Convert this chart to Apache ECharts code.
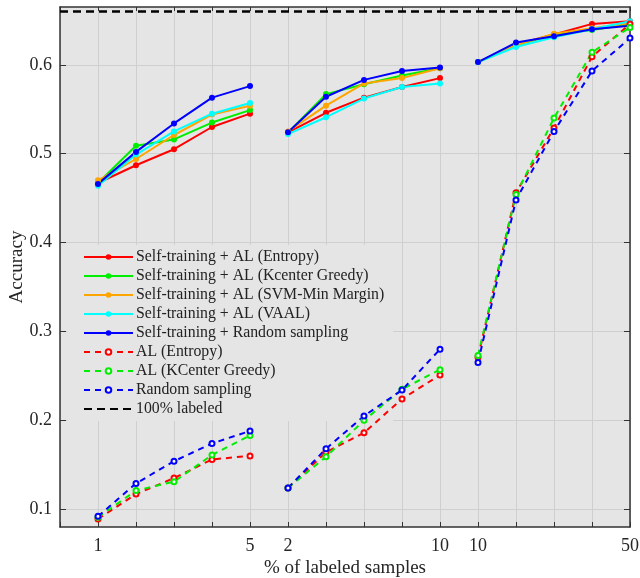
<!DOCTYPE html>
<html><head><meta charset="utf-8">
<script src="https://cdn.jsdelivr.net/npm/echarts@6/dist/echarts.min.js"></script>
<style>html,body{margin:0;padding:0;background:#fff}#c{width:640px;height:578px}</style>
</head><body><div id="c"></div>
<script>
// Three x-axis segments, each with 5 points
const seg1Labels = ['1','2','3','4','5'];
const seg2Labels = ['2','4','6','8','10'];
const seg3Labels = ['10','20','30','40','50'];
const tickLabels = {0:'1',4:'5',5:'2',9:'10',10:'10',14:'50'};
const yTicks = [0.1,0.2,0.3,0.4,0.5,0.6];

const stEntropy = [0.467,0.487,0.505,0.530,0.545, 0.524,0.546,0.563,0.575,0.585, 0.603,0.623,0.634,0.646,0.649];
const stKcenter = [0.467,0.509,0.516,0.535,0.549, 0.524,0.567,0.578,0.588,0.596, 0.603,0.622,0.634,0.639,0.646];
const stSVM     = [0.470,0.494,0.521,0.544,0.554, 0.525,0.554,0.579,0.585,0.596, 0.603,0.622,0.635,0.641,0.647];
const stVAAL    = [0.464,0.499,0.525,0.545,0.557, 0.522,0.541,0.562,0.575,0.579, 0.603,0.620,0.631,0.640,0.649];
const stRandom  = [0.466,0.502,0.534,0.563,0.576, 0.524,0.564,0.583,0.593,0.597, 0.603,0.625,0.632,0.640,0.644];
const alEntropy = [0.089,0.117,0.135,0.156,0.160, 0.124,0.164,0.186,0.224,0.251, 0.271,0.456,0.529,0.609,0.646];
const alKcenter = [0.091,0.121,0.131,0.161,0.183, 0.124,0.159,0.200,0.235,0.257, 0.273,0.454,0.540,0.614,0.642];
const alRandom  = [0.092,0.129,0.154,0.174,0.188, 0.124,0.168,0.205,0.234,0.280, 0.265,0.448,0.525,0.593,0.630];
const fullLabeled = 0.66;

const allLabels = seg1Labels.concat(seg2Labels, seg3Labels);

function toData(vals){
  const out = [];
  vals.forEach((v,i)=>{
    if (i===5 || i===10) out.push([i-0.5,'-']);
    out.push([i,v]);
  });
  return out;
}

const font = 'Liberation Serif, Times New Roman, serif';
function solid(name,color,vals){
  return {name, type:'line', data:toData(vals), symbol:'circle', symbolSize:6,
    lineStyle:{color,width:2}, itemStyle:{color}, connectNulls:false, z:5};
}
function dashed(name,color,vals){
  return {name, type:'line', data:toData(vals), symbol:'emptyCircle', symbolSize:5,
    lineStyle:{color,width:2,type:[6,5]}, itemStyle:{color,borderWidth:1.8}, connectNulls:false, z:5};
}

const legendNames = ['Self-training + AL (Entropy)','Self-training + AL (Kcenter Greedy)','Self-training + AL (SVM-Min Margin)',
  'Self-training + AL (VAAL)','Self-training + Random sampling','AL (Entropy)','AL (KCenter Greedy)','Random sampling','100% labeled'];

const chart = echarts.init(document.getElementById('c'), null, {renderer:'canvas'});
chart.setOption({
  animation:false,
  backgroundColor:'#fff',
  textStyle:{fontFamily:font},
  grid:{left:60,right:10,top:7,bottom:51,show:true,backgroundColor:'#e5e5e5',borderWidth:0,
    containLabel:false, outerBoundsMode:'none'},
  xAxis:[{
    type:'value', min:-1, max:14, interval:1,
    axisLine:{onZero:false,lineStyle:{color:'#333',width:1.5}},
    axisTick:{inside:true,length:5,lineStyle:{color:'#333'}},
    splitLine:{show:true,lineStyle:{color:'#cfcfcf',width:1}},
    axisLabel:{color:'#262626',fontSize:18,fontFamily:font,margin:10,
      formatter:v=>(tickLabels[v]!==undefined?tickLabels[v]:'')},
    name:'% of labeled samples', nameLocation:'middle', nameGap:32, nameMoveOverlap:false,
    nameTextStyle:{color:'#262626',fontSize:19,fontFamily:font}
  },{
    type:'value', position:'top', min:-1, max:14, interval:1,
    axisLine:{show:true,onZero:false,lineStyle:{color:'#333',width:1.5}},
    axisTick:{inside:true,length:4,lineStyle:{color:'#333'}},
    axisLabel:{show:false}, splitLine:{show:false}
  }],
  yAxis:[{
    type:'value', min:0.08, max:0.665,
    axisLine:{show:true,onZero:false,lineStyle:{color:'#333',width:1.5}},
    axisTick:{show:true,inside:true,length:6,lineStyle:{color:'#333'},customValues:yTicks},
    splitLine:{show:true,lineStyle:{color:'#cfcfcf'}},
    axisLabel:{color:'#262626',fontSize:18,fontFamily:font,margin:8,customValues:yTicks,
      formatter:v=>v.toFixed(1)},
    name:'Accuracy', nameLocation:'middle', nameGap:33, nameMoveOverlap:false,
    nameTextStyle:{color:'#262626',fontSize:19,fontFamily:font}
  },{
    type:'value', position:'right', min:0.08, max:0.665,
    axisLine:{show:true,onZero:false,lineStyle:{color:'#333',width:1.5}},
    axisTick:{show:true,inside:true,length:6,lineStyle:{color:'#333'},customValues:yTicks},
    axisLabel:{show:false}, splitLine:{show:false}
  }],
  legend:{
    orient:'vertical', left:67, top:245, itemWidth:49, itemHeight:7, itemGap:3,
    backgroundColor:'#e5e5e5', padding:[4,9,4,16], z:4,
    textStyle:{color:'#222',fontSize:15.8,fontFamily:font,padding:[0,0,0,-2]},
    data:legendNames.map((n,i)=> i===8 ? {name:n, itemStyle:{opacity:0}} : n)
  },
  series:[
    solid(legendNames[0],'#ff0000',stEntropy),
    solid(legendNames[1],'#00ee00',stKcenter),
    solid(legendNames[2],'#ffa500',stSVM),
    solid(legendNames[3],'#00ffff',stVAAL),
    solid(legendNames[4],'#0000ff',stRandom),
    dashed(legendNames[5],'#ff0000',alEntropy),
    dashed(legendNames[6],'#00ee00',alKcenter),
    dashed(legendNames[7],'#0000ff',alRandom),
    {name:legendNames[8], type:'line', data:[[-1,fullLabeled],[14,fullLabeled]], symbol:'none',
      lineStyle:{color:'#000',width:2.5,type:[8,5]}, itemStyle:{color:'#000'}, z:5}
  ]
});
</script></body></html>
